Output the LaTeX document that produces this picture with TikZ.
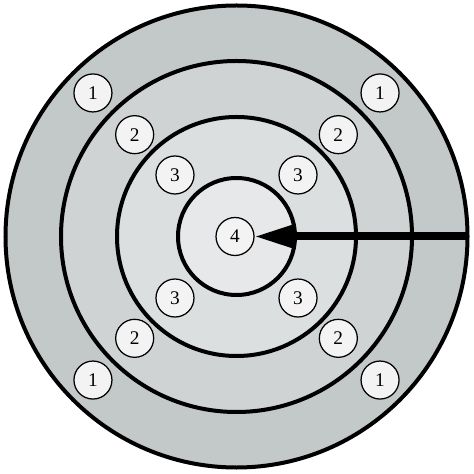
\documentclass[tikz,border=0pt]{standalone}
\usepackage{fontspec}
\setmainfont{Liberation Serif}
\usepackage{xcolor}
\usepackage{tikz}
\usetikzlibrary{arrows.meta}

\definecolor{ringA}{HTML}{C3C8C9}
\definecolor{ringB}{HTML}{CFD3D4}
\definecolor{ringC}{HTML}{DCDFE0}
\definecolor{ringD}{HTML}{E6E8E9}
\definecolor{spot}{HTML}{F3F3F3}

\begin{document}
\begin{tikzpicture}[
    ring/.style={draw=black,line width=0.08cm},
    spot/.style={circle,draw=black,line width=0.025cm,fill=spot,
        minimum size=0.76cm,inner sep=0pt,outer sep=0pt,font=\fontsize{11}{13}\selectfont}]
    \useasboundingbox (-4.73,-4.75) rectangle (4.75,4.73);
    \draw[ring,fill=ringA] (0,0) circle (4.62);
    \draw[ring,fill=ringB] (0,0) circle (3.51);
    \draw[ring,fill=ringC] (0,0) circle (2.39);
    \draw[ring,fill=ringD] (0,0) circle (1.17);
    \foreach \a/\n in {45/ne,135/nw,225/sw,315/se} {
        \node[spot] (one\n) at (\a:4.06) {1};
        \node[spot] (two\n) at (\a:2.88) {2};
        \node[spot] (three\n) at (\a:1.74) {3};
    }
    \node[spot] (four) at (-0.03,0) {4};
    \coordinate (edge) at (4.65,0);
    \draw[line width=0.16cm,-{Triangle[length=0.8cm,width=0.44cm]}] (edge) -- (four);
\end{tikzpicture}
\end{document}
